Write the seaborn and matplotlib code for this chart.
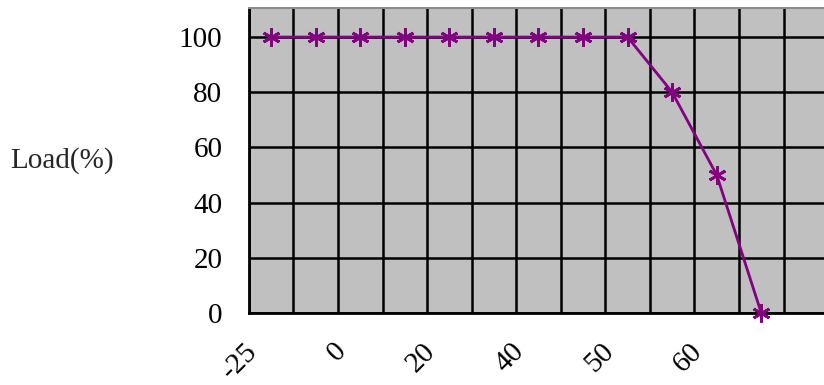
import numpy as np
import seaborn as sns
import matplotlib.pyplot as plt

# --- data ---
load = [100, 100, 100, 100, 100, 100, 100, 100, 100, 80, 50, 0]
x_labels = ["-25", "0", "20", "40", "50", "60"]
y_ticks = [0, 20, 40, 60, 80, 100]

n_cells = 13
pos = np.arange(len(load))

sns.set_theme(style="white")
plt.rcParams["font.family"] = ["Liberation Serif", "DejaVu Serif"]

fig = plt.figure(figsize=(8.24, 3.85), dpi=100)
ax = fig.add_axes([0.302, 0.187, 0.703, 0.792])
ax.set_facecolor("#C0C0C0")

sns.lineplot(x=pos, y=load, ax=ax, color="#800080", linewidth=2,
             marker=(6, 2, 0), markersize=13, markeredgewidth=2,
             markeredgecolor="#800080", clip_on=False, zorder=5)

ax.set_xlim(-0.5, n_cells - 0.5)
ax.set_ylim(0, 110.5)

# vertical grid at category boundaries, one label every second category
ax.set_xticks(np.arange(n_cells + 1) - 0.5, minor=True)
ax.set_xticks(np.arange(0, 12, 2) - 0.2)
ax.set_xticklabels(x_labels, rotation=45, ha="right", va="top")
ax.set_yticks(y_ticks)

ax.grid(False)
ax.grid(True, axis="x", which="minor", color="black", linewidth=1.8)
ax.grid(True, axis="y", which="major", color="black", linewidth=1.8)
ax.set_axisbelow(True)

ax.tick_params(axis="both", which="both", length=0, labelsize=21, colors="black")
ax.tick_params(axis="y", pad=19)
ax.tick_params(axis="x", pad=18)

for side in ["left", "bottom"]:
    ax.spines[side].set_color("black")
    ax.spines[side].set_linewidth(2)
ax.spines["top"].set_color("#8C8C8C")
ax.spines["top"].set_linewidth(1.5)
ax.spines["right"].set_visible(False)

ax.set_xlabel("")
ax.set_ylabel("Load(%)", rotation=0, fontsize=21, ha="center", va="center")
ax.yaxis.set_label_coords(-0.322, 0.5)

fig.savefig("out.png", dpi=100)
